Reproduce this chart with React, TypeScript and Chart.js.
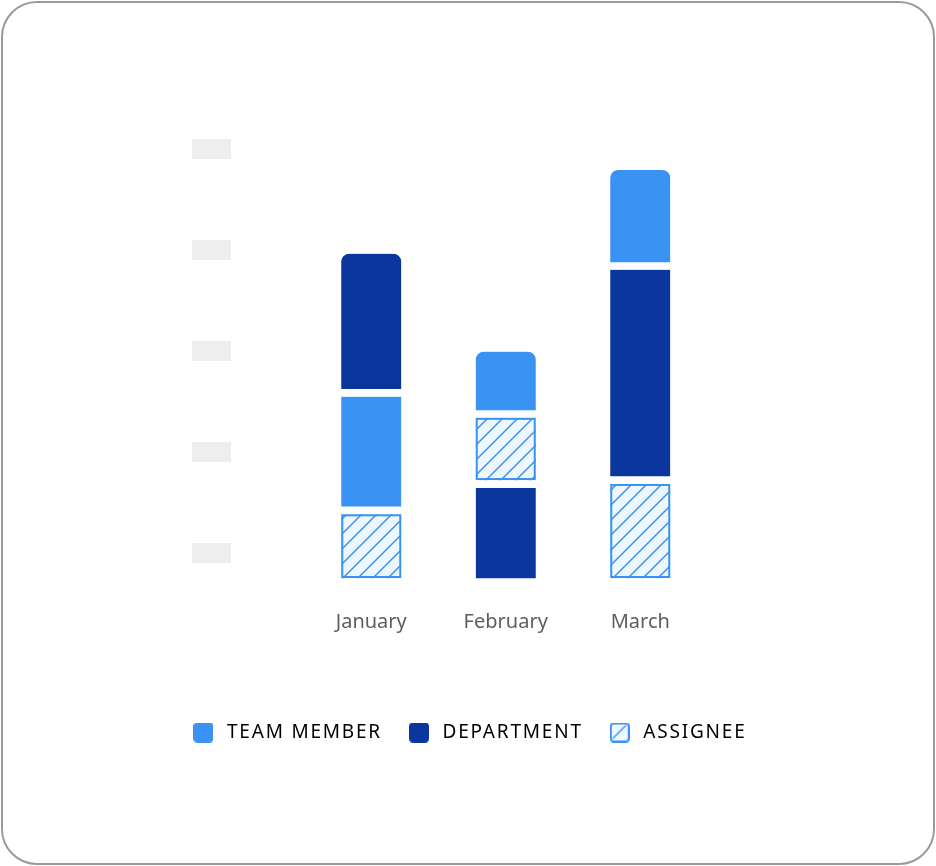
import { useEffect, useRef } from "react"
import { Chart, registerables, type Plugin } from "chart.js"

Chart.register(...registerables)

const months = ["January", "February", "March"]
const teamMember = [23.3, 13.1, 19.8]
const department = [28.3, 19.4, 42.4]
const assignee = [14.2, 13.9, 20.2]
// segment order for each month, bottom to top
const stackOrder = [
  ["assignee", "teamMember", "department"],
  ["department", "assignee", "teamMember"],
  ["assignee", "department", "teamMember"],
]
const yTickValues = [0, 20, 40, 60, 80]
const seriesKeys = ["teamMember", "department", "assignee"]
const seriesLabels = ["TEAM MEMBER", "DEPARTMENT", "ASSIGNEE"]

const LIGHT_BLUE = "#3a93f3"
const DARK_BLUE = "#0a369d"
const HATCH_FILL = "#eef6fe"
const SEGMENT_GAP = 8
const FONT = "'Noto Sans', sans-serif"

function makeHatch(ctx: CanvasRenderingContext2D) {
  const tile = document.createElement("canvas")
  tile.width = 15
  tile.height = 15
  const g = tile.getContext("2d")!
  g.fillStyle = HATCH_FILL
  g.fillRect(0, 0, 15, 15)
  g.strokeStyle = LIGHT_BLUE
  g.lineWidth = 1.5
  g.beginPath()
  g.moveTo(-1, 16)
  g.lineTo(16, -1)
  g.moveTo(-1, 1)
  g.lineTo(1, -1)
  g.moveTo(14, 16)
  g.lineTo(16, 14)
  g.stroke()
  return ctx.createPattern(tile, "repeat")!
}

function makeIcon(color: string, hatched: boolean) {
  const c = document.createElement("canvas")
  c.width = 20
  c.height = 20
  const g = c.getContext("2d")!
  if (!hatched) {
    g.fillStyle = color
    g.beginPath()
    g.roundRect(0, 0, 20, 20, 4)
    g.fill()
  } else {
    g.fillStyle = HATCH_FILL
    g.beginPath()
    g.roundRect(1, 1, 18, 18, 3)
    g.fill()
    g.strokeStyle = color
    g.lineWidth = 1.5
    g.beginPath()
    g.moveTo(3, 16)
    g.lineTo(16, 3)
    g.stroke()
    g.lineWidth = 2
    g.beginPath()
    g.roundRect(1, 1, 18, 18, 3)
    g.stroke()
  }
  return c
}

// only the legend text is letter-spaced; x labels are drawn after the bars (ticks.z = 1)
const letterSpacing: Plugin = {
  id: "letterSpacing",
  beforeLayout(chart) {
    ;(chart.ctx as any).letterSpacing = "1.8px"
  },
  afterLayout(chart) {
    ;(chart.ctx as any).letterSpacing = "0px"
  },
  beforeDraw(chart) {
    ;(chart.ctx as any).letterSpacing = "1.8px"
  },
  beforeDatasetsDraw(chart) {
    ;(chart.ctx as any).letterSpacing = "0px"
  },
}

// grey blocks instead of y tick labels
const tickPlaceholders: Plugin = {
  id: "tickPlaceholders",
  beforeDatasetsDraw(chart) {
    const scale = chart.scales.y
    const { ctx, chartArea } = chart
    const offset = (scale.options as any).ticks.labelOffset
    ctx.save()
    ctx.fillStyle = "#eeeeee"
    scale.ticks.forEach((_, i) => {
      const y = scale.getPixelForTick(i) + offset
      ctx.fillRect(chartArea.left - 112, y - 10, 39, 20)
    })
    ctx.restore()
  },
}

// blue outline round the hatched segments
const assigneeOutline: Plugin = {
  id: "assigneeOutline",
  afterDatasetsDraw(chart) {
    const { ctx } = chart
    ctx.save()
    ctx.strokeStyle = LIGHT_BLUE
    ctx.lineWidth = 2
    chart.data.datasets.forEach((_, level) => {
      chart.getDatasetMeta(level).data.forEach((el: any, i) => {
        if (stackOrder[i][level] !== "assignee") return
        const { x, y, base, width } = el.getProps(["x", "y", "base", "width"], true)
        ctx.strokeRect(x - width / 2 + 1, y + 1, width - 2, base - SEGMENT_GAP - y - 2)
      })
    })
    ctx.restore()
  },
}

export default function App() {
  const canvasRef = useRef<HTMLCanvasElement>(null)

  useEffect(() => {
    if (!canvasRef.current) return
    const ctx = canvasRef.current.getContext("2d")
    if (!ctx) return

    const values: Record<string, number[]> = { teamMember, department, assignee }
    const fills: Record<string, any> = {
      teamMember: LIGHT_BLUE,
      department: DARK_BLUE,
      assignee: makeHatch(ctx),
    }
    const icons: Record<string, HTMLCanvasElement> = {
      teamMember: makeIcon(LIGHT_BLUE, false),
      department: makeIcon(DARK_BLUE, false),
      assignee: makeIcon(LIGHT_BLUE, true),
    }

    // one dataset per stack level, since the order differs by month
    const datasets = stackOrder[0].map((_, level) => ({
      label: `level ${level + 1}`,
      data: months.map((_, i) => values[stackOrder[i][level]][i]),
      backgroundColor: months.map((_, i) => fills[stackOrder[i][level]]),
      borderColor: "#ffffff",
      borderWidth: { top: 0, left: 0, right: 0, bottom: SEGMENT_GAP },
      borderSkipped: false,
      borderRadius:
        level === stackOrder[0].length - 1
          ? { topLeft: 8, topRight: 8, bottomLeft: 0, bottomRight: 0 }
          : 0,
      barThickness: 60,
      yAxisID: "y",
    }))

    const chart = new Chart(ctx, {
      type: "bar",
      data: { labels: months, datasets } as any,
      options: {
        responsive: false,
        animation: false,
        layout: { padding: { top: 128.5, bottom: 111, left: 10, right: 10 } },
        scales: {
          x: {
            stacked: true,
            grid: { display: false },
            border: { display: false },
            ticks: {
              z: 1,
              color: "#5e5e5e",
              padding: 16,
              font: { family: FONT, size: 20 },
            },
            afterFit: (s: any) => {
              s.height = 114
            },
          },
          y: {
            stacked: true,
            min: 0,
            max: 90,
            afterBuildTicks: (s: any) => {
              s.ticks = yTickValues.map((value) => ({ value }))
            },
            grid: { display: false },
            border: { display: false },
            ticks: { display: false, labelOffset: -33 },
            afterFit: (s: any) => {
              s.width = 291
            },
          },
          yPad: {
            type: "linear",
            position: "right",
            grid: { display: false },
            border: { display: false },
            ticks: { display: false },
            afterFit: (s: any) => {
              s.width = 215.5
            },
          },
        },
        plugins: {
          tooltip: { enabled: false },
          legend: {
            position: "bottom",
            onClick: () => {},
            labels: {
              usePointStyle: true,
              pointStyleWidth: 28,
              padding: 23,
              color: "#1a1a1a",
              font: { family: FONT, size: 19 },
              generateLabels: () =>
                seriesKeys.map((key, i) => ({
                  text: seriesLabels[i],
                  pointStyle: icons[key],
                  fillStyle: key === "department" ? DARK_BLUE : LIGHT_BLUE,
                  strokeStyle: LIGHT_BLUE,
                  lineWidth: 0,
                  hidden: false,
                })) as any,
            },
          },
        },
      } as any,
      plugins: [letterSpacing, tickPlaceholders, assigneeOutline],
    })

    return () => {
      chart.destroy()
    }
  }, [])

  return (
    <div
      style={{
        position: "absolute",
        left: 1,
        top: 1,
        width: 934,
        height: 864,
        boxSizing: "border-box",
        border: "2px solid #9a9a9a",
        borderRadius: 36,
        overflow: "hidden",
        background: "#ffffff",
      }}
    >
      <canvas ref={canvasRef} width={930} height={860} style={{ display: "block" }} />
    </div>
  )
}
